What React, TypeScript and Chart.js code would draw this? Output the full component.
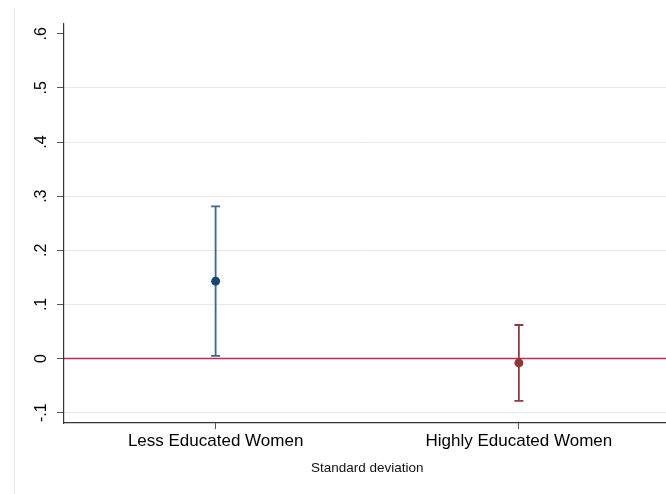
import React, { useEffect, useRef } from "react";
import { Chart, registerables } from "chart.js";

Chart.register(...registerables);

// Estimates with confidence intervals, one per group
const categories = ["Less Educated Women", "Highly Educated Women"];
const estimates = [0.143, -0.008];
const lowerBounds = [0.005, -0.078];
const upperBounds = [0.281, 0.062];

// Y axis ticks (Stata-style labels without a leading zero)
const yTickValues = [-0.1, 0, 0.1, 0.2, 0.3, 0.4, 0.5, 0.6];
const yTickLabels = ["-.1", "0", ".1", ".2", ".3", ".4", ".5", ".6"];
const xTitle = "Standard deviation";

const markerColors = ["#1a476f", "#90353b"];
const barColors = ["#3f6590", "#8f3a45"];
const zeroLineColor = "#c0284f";
const gridColor = "#e2ebee";
const axisColor = "#333333";
const FONT = "'Liberation Sans', Arial, sans-serif";

const overlayPlugin = {
  id: "overlay",
  beforeDraw(chart: any) {
    const ctx = chart.ctx;
    // faint frame line on the left of the graph region
    ctx.save();
    ctx.strokeStyle = "#e6edf0";
    ctx.lineWidth = 1;
    ctx.beginPath();
    ctx.moveTo(14.5, 8);
    ctx.lineTo(14.5, chart.height);
    ctx.stroke();
    ctx.restore();
  },
  beforeDatasetsDraw(chart: any) {
    const ctx = chart.ctx;
    const xs = chart.scales.x;
    const ys = chart.scales.y;
    const area = chart.chartArea;
    ctx.save();
    // reference line at zero
    const y0 = ys.getPixelForValue(0);
    ctx.strokeStyle = zeroLineColor;
    ctx.lineWidth = 1.5;
    ctx.beginPath();
    ctx.moveTo(area.left, y0);
    ctx.lineTo(area.right, y0);
    ctx.stroke();
    // confidence interval bars with caps
    categories.forEach((_, i) => {
      const x = xs.getPixelForValue(i + 1);
      const yl = ys.getPixelForValue(lowerBounds[i]);
      const yu = ys.getPixelForValue(upperBounds[i]);
      ctx.strokeStyle = barColors[i];
      ctx.lineWidth = 1.8;
      ctx.beginPath();
      ctx.moveTo(x, yl);
      ctx.lineTo(x, yu);
      ctx.moveTo(x - 4.5, yl);
      ctx.lineTo(x + 4.5, yl);
      ctx.moveTo(x - 4.5, yu);
      ctx.lineTo(x + 4.5, yu);
      ctx.stroke();
    });
    ctx.restore();
  },
  afterDraw(chart: any) {
    const ctx = chart.ctx;
    const xs = chart.scales.x;
    const ys = chart.scales.y;
    const area = chart.chartArea;
    ctx.save();
    ctx.fillStyle = "#000";
    // rotated y tick labels
    ctx.font = `16px ${FONT}`;
    ctx.textAlign = "center";
    ctx.textBaseline = "middle";
    yTickValues.forEach((v, i) => {
      const y = ys.getPixelForValue(v);
      ctx.save();
      ctx.translate(42, y);
      ctx.rotate(-Math.PI / 2);
      ctx.fillText(yTickLabels[i], 0, 0);
      ctx.restore();
    });
    // category labels
    ctx.font = `17px ${FONT}`;
    categories.forEach((c, i) => {
      ctx.fillText(c, xs.getPixelForValue(i + 1), 441);
    });
    // axis title
    ctx.font = `13.5px ${FONT}`;
    ctx.fillStyle = "#111";
    ctx.fillText(xTitle, (area.left + area.right) / 2, 468.5);
    ctx.restore();
  },
};

export default function App() {
  const ref = useRef<HTMLCanvasElement>(null);

  useEffect(() => {
    if (!ref.current) return;
    const chart = new Chart(ref.current, {
      type: "scatter",
      data: {
        datasets: [
          {
            data: categories.map((_, i) => ({ x: i + 1, y: estimates[i] })),
            pointBackgroundColor: markerColors,
            pointBorderColor: markerColors,
            pointRadius: 4.5,
            pointBorderWidth: 0,
          },
        ],
      },
      options: {
        animation: false,
        responsive: false,
        events: [],
        layout: { padding: { left: 0, right: 0, top: 24, bottom: 0 } },
        plugins: {
          legend: { display: false },
          tooltip: { enabled: false },
        },
        scales: {
          x: {
            type: "linear",
            min: 0.5,
            max: 2.5,
            afterBuildTicks: (s: any) => {
              s.ticks = categories.map((_, i) => ({ value: i + 1 }));
            },
            afterFit: (s: any) => {
              s.height = 71;
            },
            ticks: { display: false },
            grid: {
              drawOnChartArea: false,
              drawTicks: true,
              tickLength: 6,
              tickColor: "#555",
              tickWidth: 1,
            },
            border: { display: true, color: axisColor, width: 1.2 },
          },
          y: {
            type: "linear",
            min: -0.119,
            max: 0.618,
            afterBuildTicks: (s: any) => {
              s.ticks = yTickValues.map((v) => ({ value: v }));
            },
            afterFit: (s: any) => {
              s.width = 64;
            },
            ticks: { display: false },
            grid: {
              color: (c: any) =>
                c.tick && (Math.abs(c.tick.value) < 1e-9 || c.tick.value > 0.55)
                  ? "rgba(0,0,0,0)"
                  : gridColor,
              lineWidth: 1,
              drawTicks: true,
              tickLength: 7,
              tickColor: "#555",
              tickWidth: 1,
            },
            border: { display: true, color: axisColor, width: 1.2 },
          },
        },
      },
      plugins: [overlayPlugin],
    } as any);
    return () => chart.destroy();
  }, []);

  return (
    <div
      style={{
        position: "fixed",
        left: 0,
        top: 0,
        width: 666,
        height: 494,
        overflow: "hidden",
        background: "#fff",
      }}
    >
      <canvas ref={ref} width={675} height={494} style={{ display: "block" }} />
    </div>
  );
}
